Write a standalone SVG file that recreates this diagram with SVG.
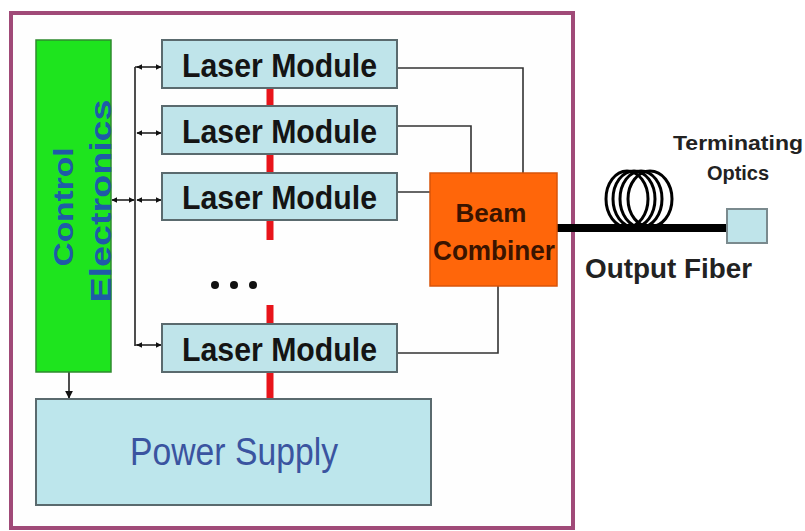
<svg xmlns="http://www.w3.org/2000/svg" width="805" height="531" viewBox="0 0 805 531">
<defs>
<marker id="ah" viewBox="0 0 10 10" refX="9" refY="5" markerWidth="6" markerHeight="6" orient="auto-start-reverse" markerUnits="userSpaceOnUse">
<path d="M0,0 L10,5 L0,10 z" fill="#111"/>
</marker>
<marker id="ahd" viewBox="0 0 10 10" refX="9" refY="5" markerWidth="8" markerHeight="8" orient="auto" markerUnits="userSpaceOnUse">
<path d="M0,0 L10,5 L0,10 z" fill="#111"/>
</marker>
</defs>
<style>
.lm{fill:#bfe4ea;stroke:#5a6a6e;stroke-width:2}
.lmt{font-family:"Liberation Sans",Arial,sans-serif;font-weight:bold;font-size:34px;fill:#141414}
.wire{fill:none;stroke:#333;stroke-width:1.6}
.bi{stroke:#222;stroke-width:1.6;marker-start:url(#ah);marker-end:url(#ah)}
.red{stroke:#e8141a;stroke-width:7}
.lbl{font-family:"Liberation Sans",Arial,sans-serif;font-weight:bold;fill:#222}
</style>
<rect width="805" height="531" fill="#ffffff"/>
<g id="frame">
<rect x="11" y="13" width="562" height="515" fill="#fefefe" stroke="#a04a78" stroke-width="4"/>
</g>
<g id="connectors">
<line class="red" x1="270" y1="87" x2="270" y2="107"/>
<line class="red" x1="270" y1="153" x2="270" y2="174"/>
<line class="red" x1="270" y1="219" x2="270" y2="240"/>
<line class="red" x1="270" y1="305" x2="270" y2="325"/>
<line class="red" x1="270" y1="371" x2="270" y2="399"/>
<line x1="135" y1="67" x2="135" y2="346" stroke="#222" stroke-width="1.6"/>
<path class="wire" d="M135,67 H140"/>
<line class="bi" x1="137" y1="67" x2="161" y2="67"/>
<line class="bi" x1="137" y1="133" x2="161" y2="133"/>
<line class="bi" x1="137" y1="200" x2="161" y2="200"/>
<path class="wire" d="M135,345 H140"/>
<line class="bi" x1="137" y1="345" x2="161" y2="345"/>
<line class="bi" x1="112" y1="200" x2="134" y2="200"/>
<line x1="69" y1="372" x2="69" y2="398" stroke="#222" stroke-width="1.6" marker-end="url(#ahd)"/>
<path class="wire" d="M397,68 H523 V173"/>
<path class="wire" d="M397,126 H471 V173"/>
<path class="wire" d="M397,192 H430"/>
<path class="wire" d="M397,353 H498 V286"/>
<line x1="557" y1="228" x2="727" y2="228" stroke="#000" stroke-width="8"/>
<g fill="none" stroke="#000" stroke-width="3">
<ellipse cx="627" cy="199" rx="21" ry="28"/>
<ellipse cx="634" cy="199" rx="21" ry="28"/>
<ellipse cx="641" cy="199" rx="21" ry="28"/>
<ellipse cx="650" cy="199" rx="22" ry="28"/>
</g>
</g>
<g id="control-electronics">
<rect x="36" y="40" width="75" height="332" fill="#1ee41e" stroke="#2f8a2f" stroke-width="1.5"/>
<text transform="translate(73,207) rotate(-90)" text-anchor="middle" font-family="Liberation Sans, Arial, sans-serif" font-weight="bold" font-size="28" fill="#1f5aa8" textLength="119" lengthAdjust="spacingAndGlyphs">Control</text>
<text transform="translate(111,201) rotate(-90)" text-anchor="middle" font-family="Liberation Sans, Arial, sans-serif" font-weight="bold" font-size="30" fill="#1f5aa8" textLength="203" lengthAdjust="spacingAndGlyphs">Electronics</text>
</g>
<g id="laser-module-1">
<rect class="lm" x="162" y="40" width="235" height="48"/>
<text class="lmt" x="182" y="77" textLength="195" lengthAdjust="spacingAndGlyphs">Laser Module</text>
</g>
<g id="laser-module-2">
<rect class="lm" x="162" y="106" width="235" height="48"/>
<text class="lmt" x="182" y="143" textLength="195" lengthAdjust="spacingAndGlyphs">Laser Module</text>
</g>
<g id="laser-module-3">
<rect class="lm" x="162" y="173" width="235" height="47"/>
<text class="lmt" x="182" y="209" textLength="195" lengthAdjust="spacingAndGlyphs">Laser Module</text>
</g>
<g id="ellipsis">
<circle cx="215" cy="285" r="4" fill="#111"/>
<circle cx="234" cy="285" r="4" fill="#111"/>
<circle cx="253" cy="285" r="4" fill="#111"/>
</g>
<g id="laser-module-4">
<rect class="lm" x="162" y="324" width="235" height="48"/>
<text class="lmt" x="182" y="361" textLength="195" lengthAdjust="spacingAndGlyphs">Laser Module</text>
</g>
<g id="power-supply">
<rect x="36" y="399" width="395" height="106" fill="#bde6ec" stroke="#5a6a6e" stroke-width="2"/>
<text x="130" y="465" font-family="Liberation Sans, Arial, sans-serif" font-size="38" fill="#3a54a0" textLength="208" lengthAdjust="spacingAndGlyphs">Power Supply</text>
</g>
<g id="beam-combiner">
<rect x="430" y="173" width="127" height="113" fill="#ff660a" stroke="#d8540a" stroke-width="1.5"/>
<text x="491" y="222" text-anchor="middle" font-family="Liberation Sans, Arial, sans-serif" font-weight="bold" font-size="26" fill="#3a1400">Beam</text>
<text x="494" y="260" text-anchor="middle" font-family="Liberation Sans, Arial, sans-serif" font-weight="bold" font-size="27" fill="#3a1400" textLength="122" lengthAdjust="spacingAndGlyphs">Combiner</text>
</g>
<g id="output-fiber-label">
<text class="lbl" x="585" y="278" font-size="28" textLength="167" lengthAdjust="spacingAndGlyphs">Output Fiber</text>
</g>
<g id="terminating-optics">
<rect x="727" y="209" width="40" height="34" fill="#bfe4ea" stroke="#7a8a8e" stroke-width="2"/>
<text class="lbl" x="738" y="150" font-size="20" text-anchor="middle" textLength="130" lengthAdjust="spacingAndGlyphs">Terminating</text>
<text class="lbl" x="738" y="180" font-size="20" text-anchor="middle">Optics</text>
</g>
</svg>
